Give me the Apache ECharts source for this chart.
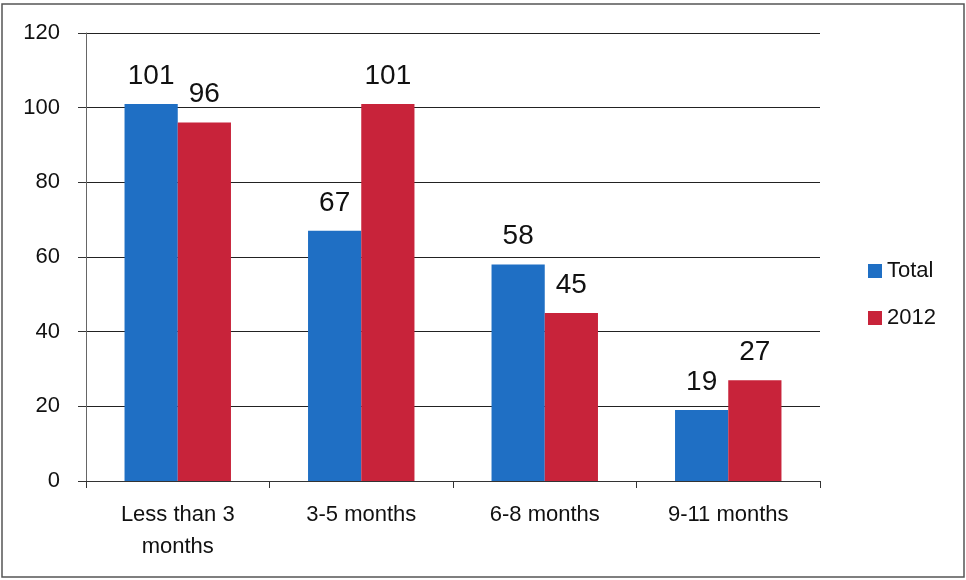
<!DOCTYPE html>
<html>
<head>
<meta charset="utf-8">
<script src="https://cdn.jsdelivr.net/npm/echarts@6/dist/echarts.min.js"></script>
<style>html,body{margin:0;padding:0;background:#fff}#c{width:966px;height:580px}</style>
</head>
<body>
<div id="c"></div>
<script>
const categories = ['Less than 3\nmonths', '3-5 months', '6-8 months', '9-11 months'];
const totalValues = [101, 67, 58, 19];
const values2012 = [96, 101, 45, 27];
const seriesNames = ['Total', '2012'];

const chart = echarts.init(document.getElementById('c'));
const font = 'Liberation Sans, Arial, sans-serif';
const valueLabel = { show: true, position: 'top', distance: 14, fontFamily: font, fontSize: 28, color: '#111' };
chart.setOption({
  animation: false,
  backgroundColor: '#fff',
  graphic: [{
    type: 'rect', shape: { x: 2, y: 4, width: 962, height: 573 },
    style: { fill: 'none', stroke: '#555', lineWidth: 1.5 }, silent: true
  }],
  grid: { left: 86, right: 146, top: 33, bottom: 99 },
  legend: {
    orient: 'vertical', left: 863, top: 255, itemWidth: 14, itemHeight: 14, itemGap: 25,
    icon: 'rect', data: seriesNames,
    textStyle: { fontFamily: font, fontSize: 22, color: '#111' }
  },
  xAxis: {
    type: 'category', data: categories,
    axisLine: { lineStyle: { color: '#333', width: 1 } },
    axisTick: { show: true, length: 7, lineStyle: { color: '#333' } },
    axisLabel: { fontFamily: font, fontSize: 22, color: '#111', margin: 18, lineHeight: 32 }
  },
  yAxis: {
    type: 'value', min: 0, max: 120, interval: 20,
    axisLine: { show: true, lineStyle: { color: '#666' } },
    axisTick: { show: true, length: 8, lineStyle: { color: '#333' } },
    splitLine: { lineStyle: { color: '#222', width: 1 } },
    axisLabel: { fontFamily: font, fontSize: 22, color: '#111', margin: 26 }
  },
  series: [
    {
      name: seriesNames[0], type: 'bar', data: totalValues, barGap: '0%', barCategoryGap: '42%',
      itemStyle: { color: '#1f6fc4' }, label: valueLabel
    },
    {
      name: seriesNames[1], type: 'bar', data: values2012, barGap: '0%', barCategoryGap: '42%',
      itemStyle: { color: '#c8233a' }, label: valueLabel
    }
  ]
});
</script>
</body>
</html>
